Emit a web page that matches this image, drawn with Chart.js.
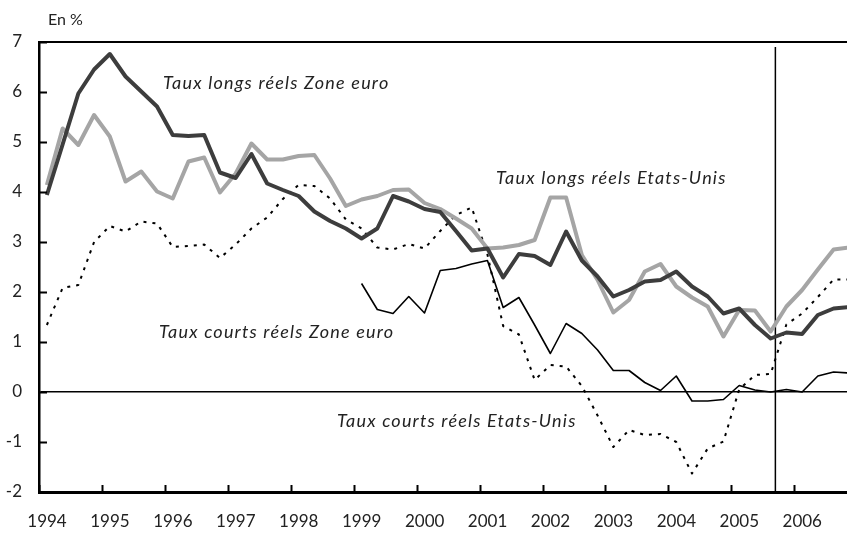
<!DOCTYPE html>
<html>
<head>
<meta charset="utf-8">
<script src="https://cdn.jsdelivr.net/npm/chart.js@4/dist/chart.umd.min.js"></script>
<style>
  body { margin: 0; background: #fff; }
  #wrap { width: 847px; height: 534px; }
</style>
</head>
<body>
<div id="wrap"><canvas id="chart-area" width="847" height="534"></canvas></div>
<script>
// quarterly series, 1994 T1 -> 2006 T4 (last quarter falls just past the right edge)
var startYear = 1994;
var years = [1994, 1995, 1996, 1997, 1998, 1999, 2000, 2001, 2002, 2003, 2004, 2005, 2006];
var yTicks = [-2, -1, 0, 1, 2, 3, 4, 5, 6, 7];
var forecastStart = 2005.7;

var longEuro = [3.94, 4.95, 5.97, 6.45, 6.76, 6.31, 6.01, 5.71, 5.14, 5.12, 5.14, 4.39, 4.28,
    4.76, 4.17, 4.04, 3.92, 3.61, 3.42, 3.27, 3.07, 3.27, 3.92, 3.81, 3.66, 3.60, 3.22,
    2.83, 2.87, 2.29, 2.76, 2.72, 2.54, 3.21, 2.63, 2.31, 1.91, 2.04, 2.21, 2.24, 2.41,
    2.11, 1.91, 1.57, 1.67, 1.34, 1.07, 1.19, 1.16, 1.54, 1.67, 1.70];

var longUS = [4.14, 5.27, 4.94, 5.54, 5.11, 4.21, 4.41, 4.01, 3.87, 4.61, 4.69, 3.99, 4.37,
    4.97, 4.65, 4.65, 4.72, 4.74, 4.27, 3.72, 3.85, 3.92, 4.04, 4.05, 3.78, 3.66, 3.47,
    3.27, 2.87, 2.89, 2.94, 3.04, 3.89, 3.89, 2.74, 2.24, 1.59, 1.84, 2.41, 2.56, 2.11,
    1.89, 1.71, 1.11, 1.64, 1.63, 1.21, 1.71, 2.04, 2.45, 2.85, 2.89];

var shortUS = [1.34, 2.08, 2.14, 3.00, 3.32, 3.21, 3.41, 3.37, 2.90, 2.92, 2.95, 2.68, 2.95,
    3.27, 3.49, 3.86, 4.14, 4.12, 3.87, 3.45, 3.27, 2.89, 2.85, 2.96, 2.87, 3.22, 3.54,
    3.69, 2.75, 1.32, 1.15, 0.24, 0.54, 0.51, 0.12, -0.47, -1.10, -0.76, -0.86, -0.84, -1.00,
    -1.63, -1.13, -0.99, 0.05, 0.34, 0.36, 1.35, 1.57, 1.90, 2.25, 2.25];

var shortEuro = [null, null, null, null, null, null, null, null, null, null, null, null, null,
    null, null, null, null, null, null, null, 2.17, 1.65, 1.57, 1.91, 1.58, 2.43, 2.47,
    2.56, 2.63, 1.69, 1.89, 1.34, 0.77, 1.37, 1.17, 0.84, 0.43, 0.43, 0.19, 0.03, 0.32,
    -0.18, -0.18, -0.15, 0.13, 0.04, 0.00, 0.05, 0.00, 0.32, 0.40, 0.38];

function toPoints(values) {
    return values.map(function (v, i) {
        return { x: startYear + (i + 0.5) / 4, y: v };
    });
}

var FONT = "Lato, 'Open Sans', sans-serif";

// frame top, inward tick marks and the italic series captions
var decorations = {
    id: "decorations",
    afterDraw: function (chart) {
        var c = chart.ctx;
        var a = chart.chartArea;
        var xs = chart.scales.x;
        var ys = chart.scales.y;
        c.save();
        c.strokeStyle = "#000";
        c.lineWidth = 2;
        c.beginPath();
        c.moveTo(a.left, a.top);
        c.lineTo(a.right, a.top);
        c.stroke();

        c.lineWidth = 2;
        c.beginPath();
        yTicks.forEach(function (t) {
            var py = Math.round(ys.getPixelForValue(t)) + 0.5;
            c.moveTo(a.left, py);
            c.lineTo(a.left + 8, py);
        });
        years.forEach(function (yr) {
            var px = Math.round(xs.getPixelForValue(yr)) + 0.5;
            c.moveTo(px, a.bottom);
            c.lineTo(px, a.bottom - 7);
        });
        c.stroke();

        c.fillStyle = "#222";
        c.textBaseline = "middle";
        c.textAlign = "left";
        c.font = "16px " + FONT;
        c.fillText("En %", 48, 20);

        c.font = "italic 18px " + FONT;
        c.letterSpacing = "1.2px";
        c.fillText("Taux longs réels Zone euro", 163, 83);
        c.fillText("Taux longs réels Etats-Unis", 496, 178);
        c.fillText("Taux courts réels Zone euro", 159, 332);
        c.fillText("Taux courts réels Etats-Unis", 337, 421);
        c.restore();
    }
};

var ctx = document.getElementById("chart-area");

var myChart = new Chart(ctx, {
    type: "line",
    data: {
        datasets: [
            {
                label: "Taux longs réels Zone euro",
                data: toPoints(longEuro),
                borderColor: "#3d3d3d",
                borderWidth: 4
            },
            {
                label: "Taux longs réels Etats-Unis",
                data: toPoints(longUS),
                borderColor: "#a5a5a5",
                borderWidth: 4
            },
            {
                label: "Taux courts réels Zone euro",
                data: toPoints(shortEuro),
                borderColor: "#000",
                borderWidth: 1.6
            },
            {
                label: "Taux courts réels Etats-Unis",
                data: toPoints(shortUS),
                borderColor: "#000",
                borderWidth: 2,
                borderDash: [3, 6]
            },
            {
                label: "prévision",
                data: [{ x: forecastStart, y: yTicks[0] }, { x: forecastStart, y: 6.9 }],
                borderColor: "#000",
                borderWidth: 1.5
            }
        ]
    },
    options: {
        responsive: false,
        animation: false,
        layout: { padding: { top: 42, right: 0, left: 0, bottom: 0 } },
        elements: {
            point: { radius: 0 },
            line: { tension: 0, borderJoinStyle: "round", fill: false }
        },
        plugins: {
            legend: { display: false },
            tooltip: { enabled: false }
        },
        scales: {
            x: {
                type: "linear",
                min: startYear,
                max: 2006.838,
                afterFit: function (s) { s.height = 42; },
                border: { display: true, color: "#000", width: 3 },
                grid: { display: false, drawTicks: false },
                ticks: {
                    stepSize: 1,
                    includeBounds: false,
                    autoSkip: false,
                    maxRotation: 0,
                    labelOffset: 8,
                    padding: 19,
                    color: "#222",
                    font: { family: FONT, size: 17 },
                    callback: function (v) { return String(v); }
                }
            },
            y: {
                min: -2,
                max: 7,
                afterFit: function (s) { s.width = 39; },
                border: { display: true, color: "#000", width: 2.5 },
                grid: {
                    drawTicks: false,
                    lineWidth: 1.5,
                    color: function (c) { return c.tick && c.tick.value === 0 ? "#000" : "rgba(0,0,0,0)"; }
                },
                ticks: {
                    stepSize: 1,
                    padding: 17,
                    color: "#222",
                    font: { family: FONT, size: 17 }
                }
            }
        }
    },
    plugins: [decorations]
});
</script>
</body>
</html>
